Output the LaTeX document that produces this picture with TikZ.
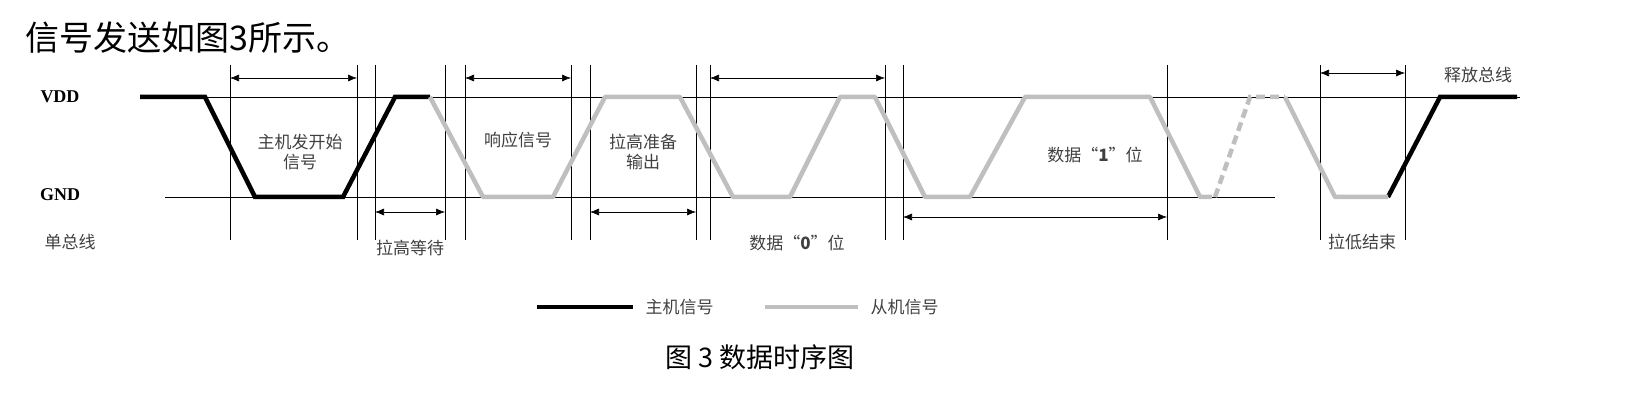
\documentclass[tikz,border=0pt]{standalone}
\usepackage{fontspec}
\newfontfamily\cjk{Noto Sans CJK SC}
\newfontfamily\lvl{Liberation Serif}
\usetikzlibrary{arrows.meta}
\tikzset{
	master/.style={line width=4.5pt, black},
	slave/.style={line width=4.5pt, black!25},
	guide/.style={line width=0.5pt, black},
	span/.style={line width=0.6pt, {Latex[length=9pt,width=7pt]}-{Latex[length=9pt,width=7pt]}},
	lbl/.style={font=\cjk\fontsize{17}{20}\selectfont, text=black!75},
	level/.style={font=\lvl\bfseries\fontsize{18}{20}\selectfont}
}
\begin{document}
\begin{tikzpicture}[x=1pt,y=-1pt]
	\useasboundingbox (0,0) rectangle (1651,406);

	\node[anchor=west, font=\cjk\fontsize{34}{38}\selectfont] (intro) at (22,38) {信号发送如图3所示。};

	\draw[guide] (140,97) -- (1520,97);  % VDD
	\draw[guide] (165,197) -- (1275,197);  % GND
	\foreach \x in {230,357,375,445,465,571,590,696,710,885,903,1167,1320,1405}
		\draw[guide] (\x,65) -- (\x,240);

	\node[level] (vdd) at (60,97) {VDD};
	\node[level] (gnd) at (60,195) {GND};

	% Host
	\draw[master] (140,97) -- (205,97) -- (255,197) -- (343,197) -- (395,97) -- (430,97);
	\draw[master] (1388,197) -- (1440,97) -- (1517,97);
	% Sensor
	\draw[slave, line join=round] (430,97) -- (483,197) -- (553,197) -- (605,97) -- (680,97)
		-- (733,197) -- (790,197) -- (840,97) -- (875,97) -- (925,197) -- (970,197)
		-- (1025,97) -- (1150,97) -- (1200,197) -- (1212,197);
	\draw[slave, dash pattern=on 9pt off 5pt] (1215,197) -- (1250,97) -- (1285,97);
	\draw[slave, line join=round] (1285,97) -- (1335,197) -- (1388,197);

	% Spans
	\draw[span] (230,78) -- (357,78);
	\draw[span] (465,78) -- (571,78);
	\draw[span] (710,78) -- (885,78);
	\draw[span] (1320,73) -- (1405,73);
	\draw[span] (375,212) -- (445,212);
	\draw[span] (590,212) -- (696,212);
	\draw[span] (903,217) -- (1167,217);

	\node[lbl, align=center] (start) at (300,152) {主机发开始\\信号};
	\node[lbl] (resp) at (518,140) {响应信号};
	\node[lbl, align=center] (prep) at (643,152) {拉高准备\\输出};
	\node[lbl] (bit1) at (1095,155) {数据“\textbf{1}”位};
	\node[lbl] (bus) at (70,242) {单总线};
	\node[lbl] (wait) at (410,248) {拉高等待};
	\node[lbl] (bit0) at (797,243) {数据“\textbf{0}”位};
	\node[lbl] (stop) at (1362,242) {拉低结束};
	\node[lbl] (free) at (1478,75) {释放总线};

	% Legend
	\draw[master] (537,307) -- (633,307);
	\node[lbl, anchor=west] (lmaster) at (642,307) {主机信号};
	\draw[slave] (765,307) -- (858,307);
	\node[lbl, anchor=west] (lslave) at (867,307) {从机信号};

	\node[font=\cjk\fontsize{27}{30}\selectfont] (cap) at (760,357) {图 3 数据时序图};
\end{tikzpicture}
\end{document}
